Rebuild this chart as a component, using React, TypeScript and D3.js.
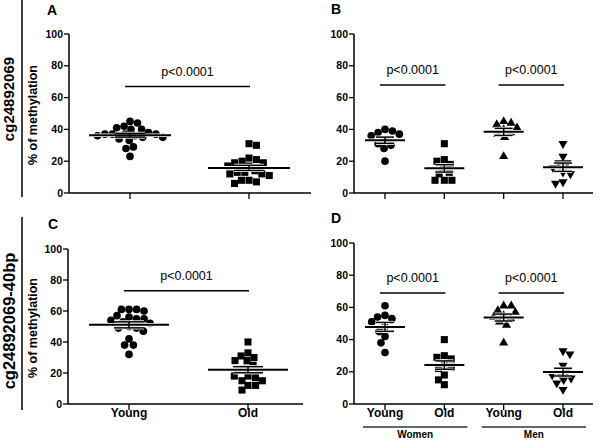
import React from "react";
import * as d3 from "d3";

// ---------- data ----------
const yTicks = [0, 20, 40, 60, 80, 100];
const ageCategories = ["Young", "Old"];
const sexGroups = ["Women", "Men"];
const pLabel = "p<0.0001";
const yTitle = "% of methylation";
const rowLabels = ["cg24892069", "cg24892069-40bp"];
const panelLetters = ["A", "B", "C", "D"];

const aYoung = [45, 44, 42, 41, 40, 40, 38, 37, 37, 37, 37, 36, 36, 35, 35, 34, 33, 29, 28, 23];
const aOld = [31, 30, 22, 21, 20, 19, 19, 17, 17, 14, 13, 13, 12, 12, 11, 8, 8, 7, 6];

const bWomenYoung = [40, 39, 38, 37, 36, 33, 31, 30, 28, 20];
const bWomenOld = [31, 21, 20, 18, 16, 13, 12, 8, 8, 8];
const bMenYoung = [45, 44, 43, 41, 40, 38, 37, 35, 23];
const bMenOld = [31, 23, 19, 19, 16, 13, 12, 7, 6];

const cYoung = [61, 61, 61, 60, 57, 56, 55, 55, 54, 53, 52, 50, 49, 49, 47, 42, 38, 38, 32];
const cOld = [40, 33, 31, 30, 28, 28, 25, 23, 22, 22, 18, 18, 17, 15, 15, 12, 12, 9];

const dWomenYoung = [61, 55, 54, 53, 51, 48, 45, 42, 38, 32];
const dWomenOld = [40, 30, 29, 28, 25, 23, 22, 18, 15, 12];
const dMenYoung = [61, 61, 58, 57, 55, 54, 53, 51, 49, 38];
const dMenOld = [33, 31, 24, 20, 19, 18, 16, 15, 13, 9];

const pLevels = { A: [67], B: [68, 68], C: [73], D: [69, 69] };

// ---------- helpers ----------
const FONT = "'Liberation Sans', Arial, Helvetica, sans-serif";

type Shape = "circle" | "square" | "triangle" | "triangleDown";

function swarm(ys: number[], minDist: number): number[] {
  const idx = ys.map((_, i) => i).sort((a, b) => ys[a] - ys[b]);
  const placed: { x: number; y: number }[] = [];
  const xs = new Array(ys.length).fill(0);
  let flip = 1;
  for (const i of idx) {
    const y = ys[i];
    const near = placed.filter((p) => Math.abs(p.y - y) < minDist);
    const cands = [0];
    near.forEach((p) => {
      const dx = Math.sqrt(minDist * minDist - (p.y - y) ** 2);
      cands.push(p.x + dx, p.x - dx);
    });
    const valid = cands.filter((c) =>
      near.every((p) => Math.hypot(p.x - c, p.y - y) >= minDist - 1e-6)
    );
    valid.sort((a, b) => Math.abs(a) - Math.abs(b) || flip * (a - b));
    const x = valid[0];
    flip = -flip;
    xs[i] = x;
    placed.push({ x, y });
  }
  return xs;
}

function symbolPath(shape: Shape): string {
  if (shape === "circle") return d3.symbol().type(d3.symbolCircle).size(46)()!;
  if (shape === "square") return d3.symbol().type(d3.symbolSquare).size(50)()!;
  return d3.symbol().type(d3.symbolTriangle).size(36)()!;
}

interface Series {
  values: number[];
  shape: Shape;
}

interface PanelProps {
  letter: string;
  series: Series[];
  x0: number;
  x1: number;
  yTop: number;
  yBottom: number;
  catRange: [number, number];
  meanHalf: number;
  semHalf: number;
  pPairs: [number, number][];
  pVals: number[];
  letterPos: [number, number];
  xLabels?: string[];
  groups?: string[];
}

function Panel(props: PanelProps) {
  const { series, x0, x1, yTop, yBottom, catRange, meanHalf, semHalf } = props;
  const y = d3.scaleLinear().domain([0, 100]).range([yBottom, yTop]);
  const x = d3
    .scalePoint<number>()
    .domain(series.map((_, i) => i))
    .range(catRange);

  return (
    <g>
      <text x={props.letterPos[0]} y={props.letterPos[1]} fontSize={14} fontWeight="bold" fontFamily={FONT}>
        {props.letter}
      </text>
      {/* axes */}
      <line x1={x0} x2={x0} y1={y(100)} y2={y(0)} stroke="#000" strokeWidth={1.5} />
      <line x1={x0} x2={x1} y1={y(0)} y2={y(0)} stroke="#000" strokeWidth={1.5} />
      {yTicks.map((t) => (
        <g key={t}>
          <line x1={x0 - 5} x2={x0} y1={y(t)} y2={y(t)} stroke="#000" strokeWidth={1.3} />
          <text
            x={x0 - 6}
            y={y(t)}
            dy="0.35em"
            textAnchor="end"
            fontSize={10.5}
            fontWeight="bold"
            fontFamily={FONT}
          >
            {t}
          </text>
        </g>
      ))}
      {series.map((_, i) => (
        <line key={i} x1={x(i)!} x2={x(i)!} y1={y(0)} y2={y(0) + 6} stroke="#000" strokeWidth={1.3} />
      ))}
      {/* points */}
      {series.map((s, i) => {
        const ys = s.values.map((v) => y(v));
        const offs = swarm(ys, 7.6);
        const path = symbolPath(s.shape);
        return (
          <g key={i}>
            {s.values.map((v, j) => (
              <path
                key={j}
                d={path}
                fill="#000"
                transform={`translate(${x(i)! + offs[j]},${ys[j]})${s.shape === "triangleDown" ? " rotate(180)" : ""}`}
              />
            ))}
          </g>
        );
      })}
      {/* mean and SEM */}
      {series.map((s, i) => {
        const m = d3.mean(s.values)!;
        const sem = d3.deviation(s.values)! / Math.sqrt(s.values.length);
        const cx = x(i)!;
        const segs: [number, number, number, number, number][] = [
          [cx - meanHalf, cx + meanHalf, y(m), y(m), 2],
          [cx - semHalf, cx + semHalf, y(m + sem), y(m + sem), 1.5],
          [cx - semHalf, cx + semHalf, y(m - sem), y(m - sem), 1.5],
          [cx, cx, y(m + sem), y(m - sem), 1.5],
        ];
        return (
          <g key={i}>
            {segs.map((sg, k) => (
              <line key={"h" + k} x1={sg[0]} x2={sg[1]} y1={sg[2]} y2={sg[3]} stroke="#fff" strokeWidth={sg[4] + 1.6} />
            ))}
            {segs.map((sg, k) => (
              <line key={"b" + k} x1={sg[0]} x2={sg[1]} y1={sg[2]} y2={sg[3]} stroke="#000" strokeWidth={sg[4]} />
            ))}
          </g>
        );
      })}
      {/* significance */}
      {props.pPairs.map((pr, k) => {
        const xa = x(pr[0])! - 5;
        const xb = x(pr[1])! + 1;
        const py = y(props.pVals[k]);
        return (
          <g key={k}>
            <line x1={xa} x2={xb} y1={py} y2={py} stroke="#000" strokeWidth={1.5} />
            <text
              x={(xa + xb) / 2}
              y={py - 10.5}
              textAnchor="middle"
              fontSize={12.5}
              fontFamily={FONT}
            >
              {pLabel}
            </text>
          </g>
        );
      })}
      {/* x labels */}
      {props.xLabels &&
        props.xLabels.map((lab, i) => (
          <text
            key={i}
            x={x(i)!}
            y={y(0) + 13}
            textAnchor="middle"
            fontSize={12}
            fontWeight="bold"
            fontFamily={FONT}
          >
            {lab}
          </text>
        ))}
      {props.groups &&
        props.groups.map((g, k) => {
          const xa = x(2 * k)! - 22;
          const xb = x(2 * k + 1)! + 23;
          return (
            <g key={g}>
              <line x1={xa} x2={xb} y1={y(0) + 23} y2={y(0) + 23} stroke="#333" strokeWidth={1.5} />
              <text
                x={(xa + xb) / 2}
                y={y(0) + 33.5}
                textAnchor="middle"
                fontSize={10}
                fontWeight="bold"
                fontFamily={FONT}
              >
                {g}
              </text>
            </g>
          );
        })}
    </g>
  );
}

export default function App() {
  const sexLabels = [ageCategories[0], ageCategories[1], ageCategories[0], ageCategories[1]];
  return (
    <svg
      width={600}
      height={440}
      viewBox="0 0 600 440"
      style={{ position: "absolute", left: 0, top: 0, background: "#fff" }}
    >
      <rect width={600} height={440} fill="#fff" />
      {/* row labels */}
      <line x1={22} x2={22} y1={0} y2={197} stroke="#000" strokeWidth={1.5} />
      <line x1={22} x2={22} y1={217} y2={410} stroke="#000" strokeWidth={1.5} />
      <text
        transform="translate(14,99) rotate(-90)"
        textAnchor="middle"
        fontSize={15}
        fontWeight="bold"
        fontFamily={FONT}
      >
        {rowLabels[0]}
      </text>
      <text
        transform="translate(15,321) rotate(-90)"
        textAnchor="middle"
        fontSize={16.5}
        fontWeight="bold"
        fontFamily={FONT}
      >
        {rowLabels[1]}
      </text>
      <text
        transform="translate(37,115) rotate(-90)"
        textAnchor="middle"
        fontSize={12.5}
        fontWeight="bold"
        fontFamily={FONT}
      >
        {yTitle}
      </text>
      <text
        transform="translate(37,328) rotate(-90)"
        textAnchor="middle"
        fontSize={12.5}
        fontWeight="bold"
        fontFamily={FONT}
      >
        {yTitle}
      </text>

      <Panel
        letter={panelLetters[0]}
        series={[
          { values: aYoung, shape: "circle" },
          { values: aOld, shape: "square" },
        ]}
        x0={69}
        x1={311}
        yTop={34}
        yBottom={193}
        catRange={[130, 249]}
        meanHalf={41}
        semHalf={15}
        pPairs={[[0, 1]]}
        pVals={pLevels.A}
        letterPos={[47, 15]}
      />
      <Panel
        letter={panelLetters[1]}
        series={[
          { values: bWomenYoung, shape: "circle" },
          { values: bWomenOld, shape: "square" },
          { values: bMenYoung, shape: "triangle" },
          { values: bMenOld, shape: "triangleDown" },
        ]}
        x0={354}
        x1={593}
        yTop={34}
        yBottom={193}
        catRange={[385, 563]}
        meanHalf={20}
        semHalf={9}
        pPairs={[
          [0, 1],
          [2, 3],
        ]}
        pVals={pLevels.B}
        letterPos={[331, 14]}
      />
      <Panel
        letter={panelLetters[2]}
        series={[
          { values: cYoung, shape: "circle" },
          { values: cOld, shape: "square" },
        ]}
        x0={68}
        x1={303}
        yTop={249}
        yBottom={404}
        catRange={[129, 248]}
        meanHalf={40}
        semHalf={15}
        pPairs={[[0, 1]]}
        pVals={pLevels.C}
        letterPos={[48, 229]}
        xLabels={ageCategories}
      />
      <Panel
        letter={panelLetters[3]}
        series={[
          { values: dWomenYoung, shape: "circle" },
          { values: dWomenOld, shape: "square" },
          { values: dMenYoung, shape: "triangle" },
          { values: dMenOld, shape: "triangleDown" },
        ]}
        x0={354}
        x1={593}
        yTop={243}
        yBottom={404}
        catRange={[385, 563]}
        meanHalf={20}
        semHalf={9}
        pPairs={[
          [0, 1],
          [2, 3],
        ]}
        pVals={pLevels.D}
        letterPos={[331, 223]}
        xLabels={sexLabels}
        groups={sexGroups}
      />
    </svg>
  );
}
